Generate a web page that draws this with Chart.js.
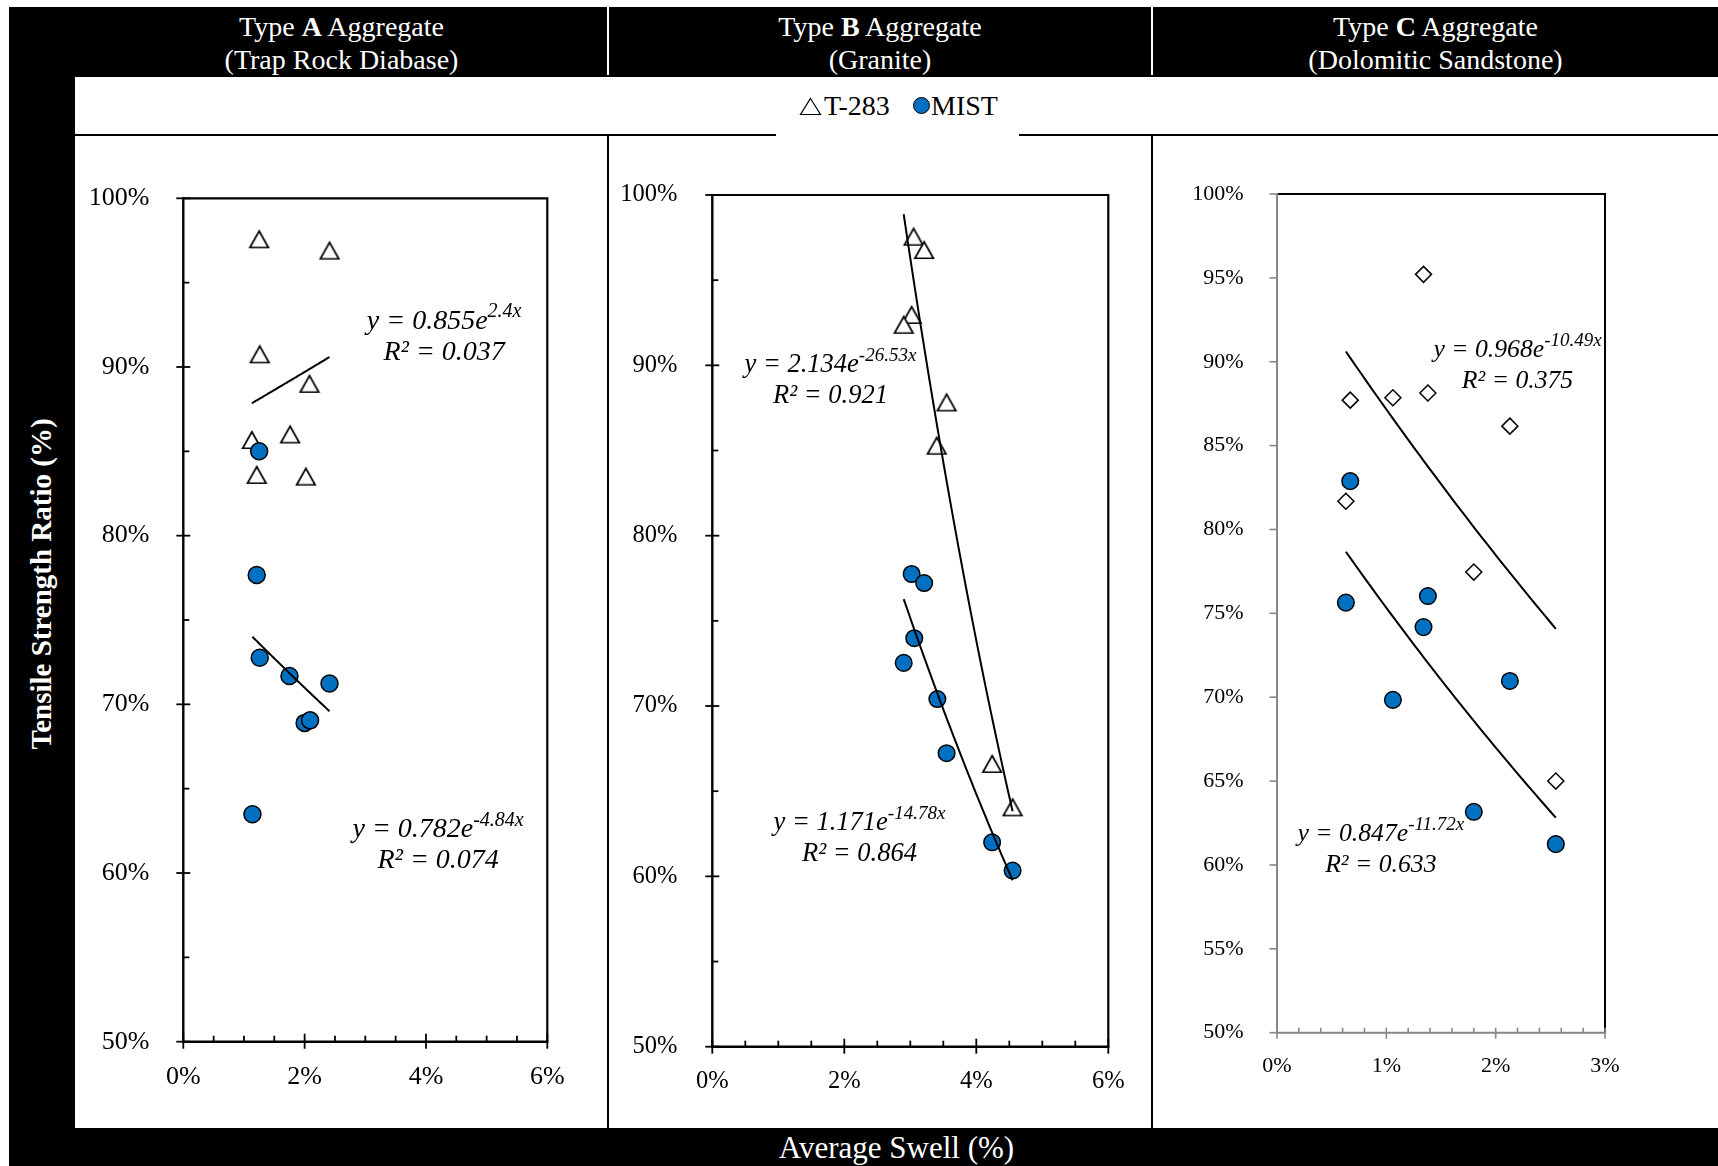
<!DOCTYPE html>
<html>
<head>
<meta charset="utf-8">
<script src="https://cdn.jsdelivr.net/npm/chart.js@4/dist/chart.umd.min.js"></script>
<style>
html,body{margin:0;padding:0;background:#fff;width:1718px;height:1166px;overflow:hidden;font-family:"Liberation Serif","Times New Roman",serif;}
#frame{position:absolute;left:9px;top:7px;width:1709px;height:1159px;background:#000;}
.hdr{position:absolute;top:9.5px;color:#fff;font-size:28px;line-height:33px;text-align:center;white-space:nowrap;}
.vdiv{position:absolute;top:7px;height:68px;width:2px;background:#fff;}
#legendRow{position:absolute;left:75px;top:77px;width:1643px;height:57px;background:#fff;}
#legendBox{position:absolute;left:776px;top:77px;width:243px;height:59px;background:#fff;}
.lgtxt{position:absolute;top:92px;font-size:28px;line-height:28px;color:#000;white-space:nowrap;}
.panel{position:absolute;top:136px;height:992px;background:#fff;}
.panel canvas{position:absolute;left:0;top:0;}
#xtitle{position:absolute;left:75px;width:1643px;top:1129px;height:38px;line-height:38px;text-align:center;color:#fff;font-size:31px;}
#ytitle{position:absolute;left:40.5px;top:584px;transform:translate(-50%,-50%) rotate(-90deg);color:#fff;font-weight:bold;font-size:29px;white-space:nowrap;}
</style>
</head>
<body>
<div id="frame"></div>
<div class="hdr" style="left:75px;width:533px;">Type <b>A</b> Aggregate<br>(Trap Rock Diabase)</div>
<div class="hdr" style="left:609px;width:542px;">Type <b>B</b> Aggregate<br>(Granite)</div>
<div class="hdr" style="left:1153px;width:565px;">Type <b>C</b> Aggregate<br>(Dolomitic Sandstone)</div>
<div class="vdiv" style="left:607px;"></div>
<div class="vdiv" style="left:1151px;"></div>
<div id="legendRow"></div>
<div id="legendBox"></div>
<svg style="position:absolute;left:799px;top:97px;" width="23" height="19"><polygon points="11.5,1.5 21.5,17.5 1.5,17.5" fill="#fff" stroke="#000" stroke-width="1.2"/></svg>
<div class="lgtxt" id="lg1" style="left:824px;"></div>
<div style="position:absolute;left:913px;top:97px;width:15px;height:15px;border-radius:50%;background:#0070C0;border:1px solid #000;"></div>
<div class="lgtxt" id="lg2" style="left:931px;"></div>
<div class="panel" style="left:75px;width:532px;"><canvas id="cA" width="532" height="992"></canvas></div>
<div class="panel" style="left:609px;width:542px;"><canvas id="cB" width="542" height="992"></canvas></div>
<div class="panel" style="left:1153px;width:565px;"><canvas id="cC" width="565" height="992"></canvas></div>
<div id="xtitle">Average Swell (%)</div>
<div id="ytitle">Tensile Strength Ratio (%)</div>
<script>
// ---------- data ----------
const seriesNames = ['T-283', 'MIST'];

// Type A (Trap Rock Diabase)  x: average swell (%), y: tensile strength ratio (%)
const aT283X = [1.25, 2.41, 1.26, 2.08, 1.13, 1.76, 1.21, 2.02];
const aT283Y = [97.57, 96.90, 90.75, 89.00, 85.67, 86.00, 83.60, 83.50];
const aMistX = [1.25, 1.21, 1.26, 1.75, 2.41, 2.00, 2.09, 1.14];
const aMistY = [85.00, 77.67, 72.76, 71.68, 71.24, 68.90, 69.05, 63.48];
const aFitT283 = [0.855, 2.4];
const aFitMist = [0.782, -4.84];
const aR2 = ['0.037', '0.074'];

// Type B (Granite)
const bT283X = [3.05, 3.21, 3.02, 2.90, 3.55, 3.40, 4.24, 4.55];
const bT283Y = [97.55, 96.77, 92.96, 92.38, 87.82, 85.28, 66.60, 64.05];
const bMistX = [3.02, 3.21, 3.06, 2.90, 3.41, 3.55, 4.24, 4.55];
const bMistY = [77.75, 77.22, 73.98, 72.53, 70.41, 67.23, 62.00, 60.34];
const bFitT283 = [2.134, -26.53];
const bFitMist = [1.171, -14.78];
const bR2 = ['0.921', '0.864'];

// Type C (Dolomitic Sandstone)
const cT283X = [1.34, 0.67, 1.06, 1.38, 2.13, 0.63, 1.80, 2.55];
const cT283Y = [95.21, 87.71, 87.85, 88.14, 86.16, 81.68, 77.46, 65.00];
const cMistX = [0.67, 0.63, 1.38, 1.34, 1.06, 2.13, 1.80, 2.55];
const cMistY = [82.88, 75.64, 76.03, 74.18, 69.84, 70.97, 63.17, 61.24];
const cFitT283 = [0.968, -10.49];
const cFitMist = [0.847, -11.72];
const cR2 = ['0.375', '0.633'];

// axis ranges
const xRangeAB = [0, 6], xRangeC = [0, 3];
const yRange = [50, 100];

document.getElementById('lg1').textContent = seriesNames[0];
document.getElementById('lg2').textContent = seriesNames[1];

// ---------- helpers ----------
const FONT = '"Liberation Serif", serif';
const BLUE = '#0070C0';

function pts(xs, ys) { return xs.map((x, i) => ({x: x, y: ys[i]})); }
function fitLine(xs, fit) {
  const lo = Math.min(...xs), hi = Math.max(...xs), n = 40, out = [];
  for (let i = 0; i <= n; i++) {
    const x = lo + (hi - lo) * i / n;
    out.push({x: x, y: 100 * fit[0] * Math.exp(fit[1] * x / 100)});
  }
  return out;
}
function fmtCoef(v) { return v.toFixed(3); }
function fmtExp(v) { return String(v) + 'x'; }

function makeTriangle(w, h, lw) {
  const c = document.createElement('canvas');
  const W = 28, H = 28;
  c.width = W; c.height = H;
  const g = c.getContext('2d');
  const cx = W / 2, cy = H / 2;
  g.beginPath();
  g.moveTo(cx, cy - h / 2);
  g.lineTo(cx + w / 2, cy + h / 2);
  g.lineTo(cx - w / 2, cy + h / 2);
  g.closePath();
  g.fillStyle = '#fff'; g.fill();
  g.lineWidth = lw; g.strokeStyle = '#000'; g.lineJoin = 'miter'; g.stroke();
  return c;
}
const triImg = makeTriangle(18.5, 16.5, 1.7);

// frame + tick marks plugin
const framePlugin = {
  id: 'frame',
  beforeDatasetsDraw(chart, args, o) {
    const ctx = chart.ctx, a = chart.chartArea;
    const xs = chart.scales.x, ys = chart.scales.y;
    ctx.save();
    ctx.lineCap = 'butt';
    ctx.strokeStyle = o.borderColor; ctx.lineWidth = o.borderWidth;
    ctx.beginPath(); ctx.moveTo(a.left, a.top); ctx.lineTo(a.right, a.top); ctx.lineTo(a.right, a.bottom); ctx.stroke();
    ctx.strokeStyle = o.axisColor; ctx.lineWidth = o.tickWidth;
    const ny = Math.round((ys.max - ys.min) / o.yMinor);
    for (let i = 0; i <= ny; i++) {
      const v = ys.min + i * o.yMinor;
      const p = ys.getPixelForValue(v);
      const major = Math.abs(v / o.yMajor - Math.round(v / o.yMajor)) < 1e-6;
      ctx.beginPath();
      if (major) { ctx.moveTo(a.left - o.yMajOut, p); ctx.lineTo(a.left + o.yMajIn, p); }
      else { ctx.moveTo(a.left, p); ctx.lineTo(a.left + o.yMinIn, p); }
      ctx.stroke();
    }
    const nx = Math.round((xs.max - xs.min) / o.xMinor);
    for (let i = 0; i <= nx; i++) {
      const v = xs.min + i * o.xMinor;
      const p = xs.getPixelForValue(v);
      const major = Math.abs(v / o.xMajor - Math.round(v / o.xMajor)) < 1e-6;
      ctx.beginPath();
      if (major) { ctx.moveTo(p, a.bottom - o.xMajIn); ctx.lineTo(p, a.bottom + o.xMajOut); }
      else { ctx.moveTo(p, a.bottom - o.xMinIn); ctx.lineTo(p, a.bottom); }
      ctx.stroke();
    }
    ctx.lineWidth = o.axisWidth;
    ctx.beginPath(); ctx.moveTo(a.left, a.top - o.borderWidth / 2); ctx.lineTo(a.left, a.bottom); ctx.lineTo(a.right + o.borderWidth / 2, a.bottom); ctx.stroke();
    ctx.restore();
  }
};

// trendline equation labels plugin
const eqPlugin = {
  id: 'eqn',
  afterDatasetsDraw(chart, args, o) {
    const ctx = chart.ctx, xs = chart.scales.x, ys = chart.scales.y;
    ctx.save();
    o.items.forEach(it => {
      const cx = xs.getPixelForValue(it.x), cy = ys.getPixelForValue(it.y);
      const fs = o.size, sfs = Math.round(o.size * 0.72);
      const mainF = 'italic ' + fs + 'px ' + FONT, supF = 'italic ' + sfs + 'px ' + FONT;
      ctx.font = mainF; const wm = ctx.measureText(it.main).width;
      ctx.font = supF; const ws = ctx.measureText(it.sup).width;
      ctx.font = mainF; const wr = ctx.measureText(it.r2).width;
      const w1 = wm + ws;
      const x1 = cx - w1 / 2, x2 = cx - wr / 2;
      const cy2 = cy + o.gap;
      if (it.bg) {
        const bl = Math.min(x1, x2) - 6, br = Math.max(x1 + w1, x2 + wr) + 6;
        ctx.fillStyle = '#fff';
        ctx.fillRect(bl, cy - fs * 0.8, br - bl, cy2 - cy + fs * 1.5);
      }
      ctx.fillStyle = '#000';
      ctx.textBaseline = 'middle'; ctx.textAlign = 'left';
      ctx.font = mainF; ctx.fillText(it.main, x1, cy);
      ctx.font = supF; ctx.fillText(it.sup, x1 + wm, cy - fs * 0.34);
      ctx.font = mainF; ctx.fillText(it.r2, x2, cy2);
    });
    ctx.restore();
  }
};

function eqItem(fit, r2, x, y, bg) {
  return {main: 'y = ' + fmtCoef(fit[0]) + 'e', sup: fmtExp(fit[1]), r2: 'R\u00B2 = ' + r2, x: x, y: y, bg: !!bg};
}

const charts = [];
function makeChart(id, cfg) {
  const datasets = [
    {data: fitLine(cfg.tx, cfg.tfit), showLine: true, borderColor: '#000', borderWidth: 2, pointRadius: 0, fill: false},
    {data: fitLine(cfg.mx, cfg.mfit), showLine: true, borderColor: '#000', borderWidth: 2, pointRadius: 0, fill: false},
    {label: seriesNames[1], data: pts(cfg.mx, cfg.my), pointStyle: 'circle', pointRadius: cfg.circR, backgroundColor: BLUE, borderColor: '#000', borderWidth: 1.5},
    {label: seriesNames[0], data: pts(cfg.tx, cfg.ty), pointStyle: cfg.tStyle, pointRadius: cfg.tR, backgroundColor: '#fff', borderColor: '#000', borderWidth: 1.5}
  ];
  charts.push(new Chart(document.getElementById(id), {
    type: 'scatter',
    data: {datasets: datasets},
    plugins: [framePlugin, eqPlugin],
    options: {
      responsive: false, animation: false, devicePixelRatio: 1,
      layout: {padding: {top: cfg.padTop, right: cfg.padRight, left: 0, bottom: 0}},
      plugins: {
        legend: {display: false}, tooltip: {enabled: false},
        frame: cfg.frame,
        eqn: {items: cfg.eq, size: cfg.eqSize, gap: 31}
      },
      scales: {
        x: {
          type: 'linear', min: cfg.xr[0], max: cfg.xr[1],
          afterFit(s) { s.height = cfg.xH; },
          grid: {display: false}, border: {display: false},
          ticks: {stepSize: cfg.xStep, padding: cfg.xPad, color: '#000', maxRotation: 0, autoSkip: false,
                  font: {family: FONT, size: cfg.tickSize, lineHeight: 1}, callback: v => v + '%'}
        },
        y: {
          type: 'linear', min: yRange[0], max: yRange[1],
          afterFit(s) { s.width = cfg.yW; },
          grid: {display: false}, border: {display: false},
          ticks: {stepSize: cfg.yStep, padding: cfg.yPad, color: '#000', autoSkip: false,
                  font: {family: FONT, size: cfg.tickSize}, callback: v => v + '%'}
        }
      }
    }
  }));
}

const frameAB = {borderColor: '#000', borderWidth: 2.2, axisColor: '#000', axisWidth: 2.4, tickWidth: 1.8,
  yMajor: 10, yMinor: 5, yMajOut: 7, yMajIn: 7, yMinIn: 6,
  xMajor: 2, xMinor: 0.5, xMajIn: 8, xMajOut: 7, xMinIn: 6};
const frameC = {borderColor: '#000', borderWidth: 2, axisColor: '#878787', axisWidth: 2, tickWidth: 1.6,
  yMajor: 5, yMinor: 5, yMajOut: 7.5, yMajIn: 0, yMinIn: 0,
  xMajor: 1, xMinor: 0.2, xMajIn: 5, xMajOut: 6, xMinIn: 5};

makeChart('cA', {
  tx: aT283X, ty: aT283Y, mx: aMistX, my: aMistY, tfit: aFitT283, mfit: aFitMist,
  tStyle: triImg, tR: 9, circR: 8.5,
  xr: xRangeAB, xStep: 2, yStep: 10,
  padTop: 62.3, padRight: 59.7, xH: 86.3, yW: 108.3, xPad: 14, yPad: 26, tickSize: 26,
  frame: frameAB, eqSize: 28,
  eq: [eqItem(aFitT283, aR2[0], 4.30, 92.69), eqItem(aFitMist, aR2[1], 4.20, 62.55)]
});
makeChart('cB', {
  tx: bT283X, ty: bT283Y, mx: bMistX, my: bMistY, tfit: bFitT283, mfit: bFitMist,
  tStyle: triImg, tR: 9, circR: 8.3,
  xr: xRangeAB, xStep: 2, yStep: 10,
  padTop: 59, padRight: 42.7, xH: 81.3, yW: 103.3, xPad: 15, yPad: 27, tickSize: 24.5,
  frame: frameAB, eqSize: 26.5,
  eq: [eqItem(bFitT283, bR2[0], 1.79, 90.03, true), eqItem(bFitMist, bR2[1], 2.23, 63.15)]
});
makeChart('cC', {
  tx: cT283X, ty: cT283Y, mx: cMistX, my: cMistY, tfit: cFitT283, mfit: cFitMist,
  tStyle: 'rectRot', tR: 8, circR: 8.3,
  xr: xRangeC, xStep: 1, yStep: 5,
  padTop: 58, padRight: 113, xH: 95.3, yW: 124, xPad: 15, yPad: 25.3, tickSize: 22,
  frame: frameC, eqSize: 25.7,
  eq: [eqItem(cFitT283, cR2[0], 2.20, 90.69), eqItem(cFitMist, cR2[1], 0.95, 61.86)]
});
</script>
</body>
</html>
